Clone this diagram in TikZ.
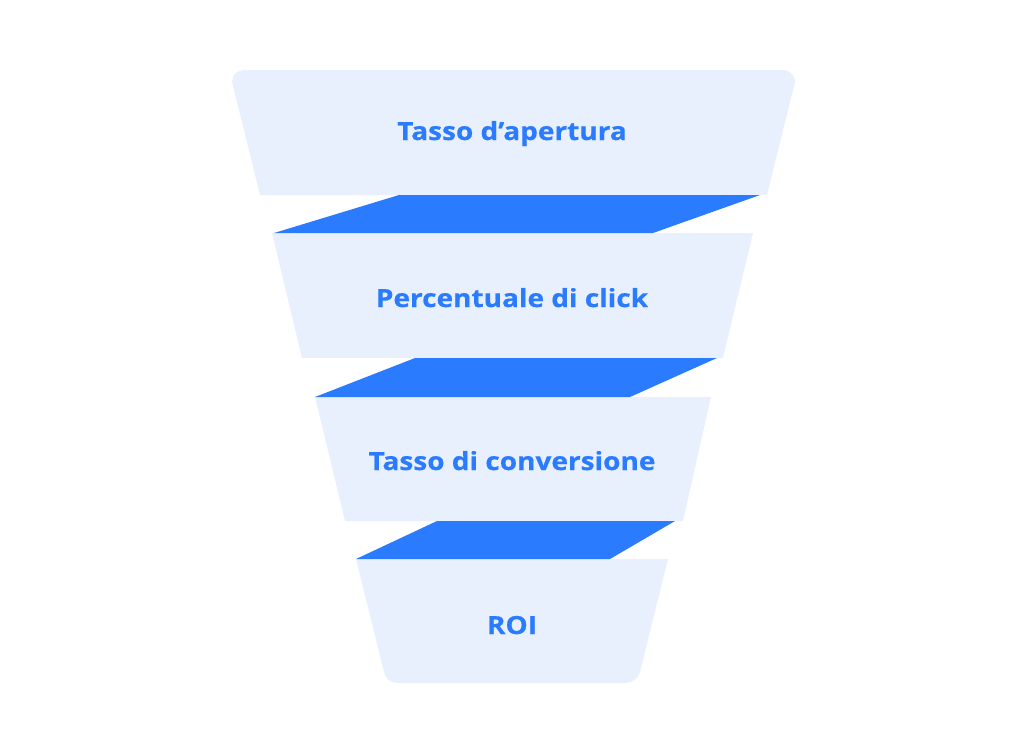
\documentclass[tikz,border=0pt]{standalone}
\usepackage{fontspec}
\setmainfont{Open Sans}
\newfontfamily\lblfont[FakeStretch=1.12,BoldFeatures={FakeStretch=1.12,FakeBold=0.5}]{Open Sans}
\definecolor{bandfill}{HTML}{E8F0FE}
\definecolor{funnelblue}{HTML}{2B7BFF}
\begin{document}
\begin{tikzpicture}[x=1pt,y=-1pt,
  band/.style={fill=bandfill,draw=none},
  slab/.style={fill=funnelblue,draw=none},
  lbl/.style={text=funnelblue,font=\lblfont\fontsize{25}{29}\selectfont\bfseries,anchor=base,inner sep=0}]
\useasboundingbox (0,0) rectangle (1024,740);
% bands
\path[band] (260,195) -- (232,82) [rounded corners=12] -- (232,70) -- (795,70) [sharp corners] -- (795,82) -- (767,195) -- cycle;
\path[band] (272,233) -- (753,233) -- (723,358) -- (302,358) -- cycle;
\path[band] (315,397) -- (711,397) -- (683,521) -- (345,521) -- cycle;
\path[band] (356,559) -- (668,559) -- (640,672) [rounded corners=12] -- (638,683) -- (385,683) [sharp corners] -- (384,672) -- cycle;
% slabs
\path[slab] (399,195) -- (760,195) -- (653,233) -- (274,233) -- cycle;
\path[slab] (415,358) -- (717,358) -- (630,397) -- (315,397) -- cycle;
\path[slab] (437,521) -- (675,521) -- (610,559) -- (356,559) -- cycle;
% labels
\node[lbl] (l1) at (512,140) {Tasso d’apertura};
\node[lbl] (l2) at (512,307) {Percentuale di click};
\node[lbl] (l3) at (512,470) {Tasso di conversione};
\node[lbl] (l4) at (512,634) {ROI};
\end{tikzpicture}
\end{document}
